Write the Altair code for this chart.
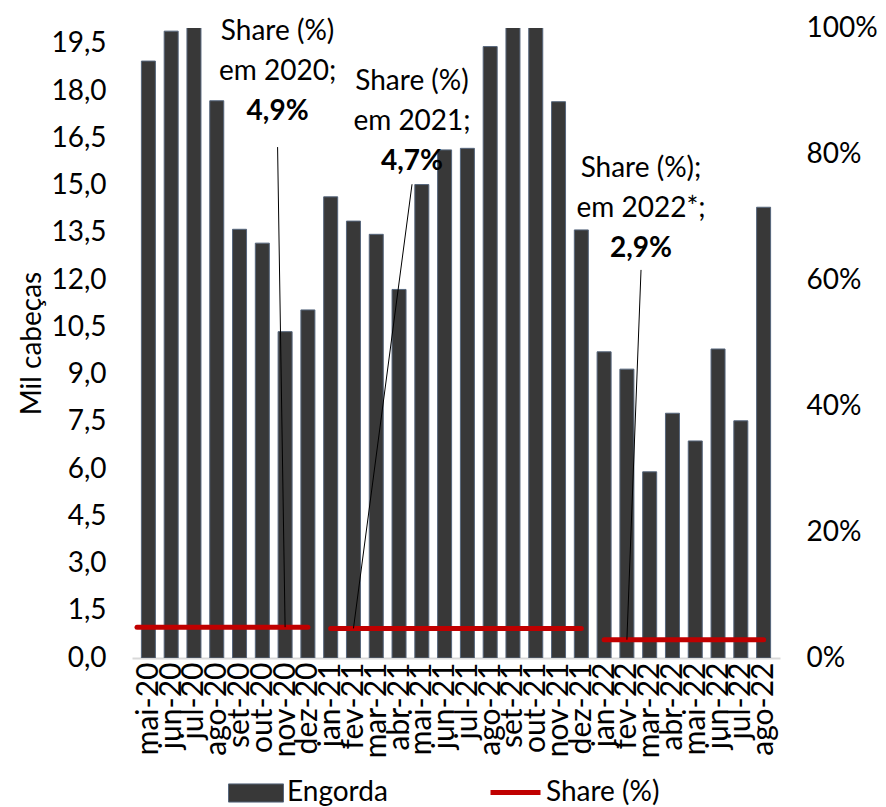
import altair as alt
import pandas as pd

# ---------------- data ----------------
months = ["mai-20", "jun-20", "jul-20", "ago-20", "set-20", "out-20", "nov-20", "dez-20",
          "jan-21", "fev-21", "mar-21", "abr-21", "mai-21", "jun-21", "jul-21", "ago-21",
          "set-21", "out-21", "nov-21", "dez-21",
          "jan-22", "fev-22", "mar-22", "abr-22", "mai-22", "jun-22", "jul-22", "ago-22"]
engorda = [18.95, 19.90, 20.40, 17.69, 13.61, 13.17, 10.36, 11.05,
           14.64, 13.87, 13.45, 11.70, 15.03, 16.13, 16.18, 19.41,
           20.60, 20.50, 17.66, 13.59,
           9.72, 9.17, 5.91, 7.77, 6.89, 9.81, 7.53, 14.31]

share_years = ["2020", "2021", "2022*"]
share_values = [0.049, 0.047, 0.029]
share_first = ["mai-20", "jan-21", "jan-22"]
share_last = ["dez-20", "dez-21", "ago-22"]

ann_title = ["Share (%)", "Share (%)", "Share (%);"]
ann_sub = ["em 2020;", "em 2021;", "em 2022*;"]
ann_leader_month = ["nov-20", "fev-21", "fev-22"]

# annotation layout (index units / share units)
ann_text_x = [5.67, 11.57, 21.62]
ann_text_y = [0.994, 0.915, 0.776]
ann_leader_top = [0.811, 0.752, 0.616]
line_step = 0.0635
first_pad = [0.5, 0.0, 0.0]   # 2020 line runs to the plot's left edge

# ---------------- tables ----------------
idx = {m: i for i, m in enumerate(months)}
bars_df = pd.DataFrame({"idx": list(range(len(months))), "month": months,
                        "engorda": engorda, "serie": "Engorda"})

line_rows = []
for y, v, a, b, p in zip(share_years, share_values, share_first, share_last, first_pad):
    line_rows.append({"ano": y, "idx": idx[a] - p, "share": v, "serie": "Share (%)"})
    line_rows.append({"ano": y, "idx": idx[b], "share": v, "serie": "Share (%)"})
line_df = pd.DataFrame(line_rows)

lead_rows, txt_rows, bold_rows = [], [], []
for t, s, v, m, tx, ty, lt in zip(ann_title, ann_sub, share_values, ann_leader_month,
                                  ann_text_x, ann_text_y, ann_leader_top):
    lead_rows.append({"idx": tx, "share": lt, "x2": idx[m], "y2": v})
    txt_rows.append({"idx": tx, "share": ty, "t": t})
    txt_rows.append({"idx": tx, "share": ty - line_step, "t": s})
    bold_rows.append({"idx": tx, "share": ty - 2 * line_step,
                      "t": f"{v * 100:.1f}%".replace(".", ",")})
lead_df = pd.DataFrame(lead_rows)
txt_df = pd.DataFrame(txt_rows)
bold_df = pd.DataFrame(bold_rows)

# ---------------- chart ----------------
FONT = "Lato"
FS = 28
xdom = [-0.5, len(months) - 0.5]
label_js = "[" + ",".join(f"'{m}'" for m in months) + "][datum.value]"

x_axis = alt.Axis(values=list(range(len(months))), labelExpr=label_js,
                  labelAngle=270, ticks=False, grid=False,
                  domainColor="#d9d9d9", domainWidth=2,
                  labelFontSize=30, labelPadding=4, labelOverlap=False,
                  labelFont=FONT, labelColor="#000000", title=None)
x_scale = alt.Scale(domain=xdom, nice=False, zero=False)


def xq():
    return alt.X("idx:Q", scale=x_scale, axis=x_axis)


bars = alt.Chart(bars_df).mark_bar(size=14, stroke="#56667c", strokeWidth=1, clip=True).encode(
    x=xq(),
    y=alt.Y("engorda:Q",
            scale=alt.Scale(domain=[0, 20], nice=False),
            axis=alt.Axis(values=[0, 1.5, 3, 4.5, 6, 7.5, 9, 10.5, 12, 13.5, 15, 16.5, 18, 19.5],
                          labelExpr="replace(format(datum.value, '.1f'), '.', ',')",
                          title="Mil cabeças", grid=False, ticks=False, domain=False,
                          labelFontSize=FS, labelPadding=26, labelFont=FONT,
                          labelColor="#000000",
                          titleFontSize=FS, titleFont=FONT, titleFontWeight="normal",
                          titleColor="#000000", titlePadding=4)),
    color=alt.Color("serie:N",
                    scale=alt.Scale(domain=["Engorda"], range=["#383838"]),
                    legend=alt.Legend(title=None, orient="none", legendX=96, legendY=737,
                                      symbolType="M-1,-0.33H1V0.33H-1Z", symbolSize=3025,
                                      symbolStrokeColor="#56667c", symbolStrokeWidth=1,
                                      labelFontSize=FS, labelFont=FONT, labelColor="#000000",
                                      labelOffset=3, padding=0)),
)

yscale = alt.Scale(domain=[0, 1], nice=False)
y_axis = alt.Axis(orient="right", format=".0%", values=[0, 0.2, 0.4, 0.6, 0.8, 1.0],
                  grid=False, ticks=False, domain=False, title=None,
                  labelFontSize=FS, labelFont=FONT, labelColor="#000000",
                  labelPadding=26)


def yq():
    return alt.Y("share:Q", scale=yscale, axis=y_axis)


line = alt.Chart(line_df).mark_line(strokeWidth=5, strokeCap="round", clip=True).encode(
    x=xq(),
    y=yq(),
    detail="ano:N",
    stroke=alt.Stroke("serie:N",
                      scale=alt.Scale(domain=["Share (%)"], range=["#c00000"]),
                      legend=alt.Legend(title=None, orient="none", legendX=356, legendY=737,
                                        symbolType="stroke", symbolSize=2500,
                                        symbolStrokeWidth=5,
                                        labelFontSize=FS, labelFont=FONT, labelColor="#000000",
                                        labelOffset=3, padding=0)),
)

leaders = alt.Chart(lead_df).mark_rule(color="#000000", strokeWidth=1).encode(
    x=xq(), x2="x2:Q", y=yq(), y2="y2:Q",
)

texts = alt.Chart(txt_df).mark_text(font=FONT, fontSize=FS, align="center",
                                    baseline="middle", color="#000000").encode(
    x=xq(), y=yq(), text="t:N",
)

bolds = alt.Chart(bold_df).mark_text(font=FONT, fontSize=FS, fontWeight="bold",
                                     align="center", baseline="middle",
                                     color="#000000").encode(
    x=xq(), y=yq(), text="t:N",
)

right = alt.layer(line, leaders, texts, bolds)

chart = alt.layer(bars, right).resolve_scale(
    y="independent", color="independent"
).properties(
    width=648, height=630,
    padding={"left": 10, "top": 6, "right": 0, "bottom": 0},
).configure_view(stroke=None)

chart.save("out.html", embed_options={"renderer": "svg", "actions": False})
